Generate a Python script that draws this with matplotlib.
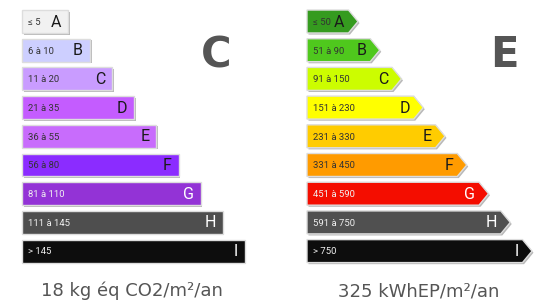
import matplotlib
matplotlib.use("Agg")
import matplotlib.pyplot as plt
from matplotlib.patches import Polygon, Rectangle

# Data
classes = ["A", "B", "C", "D", "E", "F", "G", "H", "I"]
ges_ranges = ["≤ 5", "6 à 10", "11 à 20", "21 à 35", "36 à 55", "56 à 80",
              "81 à 110", "111 à 145", "> 145"]
dpe_ranges = ["≤ 50", "51 à 90", "91 à 150", "151 à 230", "231 à 330",
              "331 à 450", "451 à 590", "591 à 750", "> 750"]
ges_colors = ["#f1f1f1", "#cdcfff", "#c99cff", "#c45cff", "#c86cfc",
              "#8b2cff", "#9333d6", "#4e4e4e", "#0d0d0d"]
dpe_colors = ["#359b1f", "#4fc81d", "#ccfd00", "#ffff00", "#ffcc00",
              "#ff9b00", "#f40d00", "#505050", "#0d0d0d"]
light_text = ["G", "H", "I"]
ges_value, ges_class = 18, "C"
dpe_value, dpe_class = 325, "E"

W, H = 536, 302
fig = plt.figure(figsize=(W / 100, H / 100), dpi=100)
ax = fig.add_axes([0, 0, 1, 1])
pitch = 28.7
y0 = 21.5
ax.set_xlim(0, W)
ax.set_ylim((H - y0) / pitch, -y0 / pitch)
ax.axis("off")

bh = 0.8
sh = 2.0 / pitch


def bar_text(x_left, x_right, row, rng, cls):
    tc = "#ffffff" if cls in light_text else "#1a1a1a"
    rc = "#f0f0f0" if cls in light_text else "#333333"
    ax.text(x_left + 6, row + 0.03, rng, fontsize=6.8, color=rc, family="Roboto",
            ha="left", va="center")
    ax.text(x_right, row + 0.02, cls, fontsize=11.5, color=tc, family="Roboto",
            ha="right", va="center")


# Left panel: GES bars
for i, (cls, rng, col) in enumerate(zip(classes, ges_ranges, ges_colors)):
    x = 22
    w = 46 + 22.1 * i
    ax.add_patch(Rectangle((x + 1.5, i - bh / 2 + sh * 0.8), w, bh,
                           facecolor="#b8b8b8", edgecolor="none", zorder=1))
    ax.add_patch(Rectangle((x, i - bh / 2), w, bh, facecolor=col,
                           edgecolor="#dddddd", linewidth=1, zorder=2))
    bar_text(x, x + w - 7, i, rng, cls)

# Right panel: DPE arrows
d = 9.5
for i, (cls, rng, col) in enumerate(zip(classes, dpe_ranges, dpe_colors)):
    x = 307
    tip = x + 51 + 21.75 * i
    top, bot = i - bh / 2, i + bh / 2
    pts = [(x, top), (tip - d, top), (tip, i), (tip - d, bot), (x, bot)]
    shadow = [(px + 1.5, py + sh * 0.8) for px, py in pts]
    ax.add_patch(Polygon(shadow, closed=True, facecolor="#b8b8b8",
                         edgecolor="none", zorder=1))
    ax.add_patch(Polygon(pts, closed=True, facecolor=col,
                         edgecolor="#dddddd", linewidth=1, zorder=2))
    bar_text(x, tip - d - 4, i, rng, cls)

# Current class letters
ax.text(216, (55 - y0) / pitch, ges_class, fontsize=30, fontweight="bold",
        color="#555555", ha="center", va="center")
ax.text(504, (55 - y0) / pitch, dpe_class, fontsize=30, fontweight="bold",
        color="#555555", ha="center", va="center")

# Values
ax.text(132, (291 - y0) / pitch, f"{ges_value} kg éq CO2/m²/an", fontsize=13,
        color="#555555", ha="center", va="center")
ax.text(419, (291 - y0) / pitch, f"{dpe_value} kWhEP/m²/an", fontsize=13,
        color="#555555", ha="center", va="center")

fig.savefig("out.png", dpi=100)
